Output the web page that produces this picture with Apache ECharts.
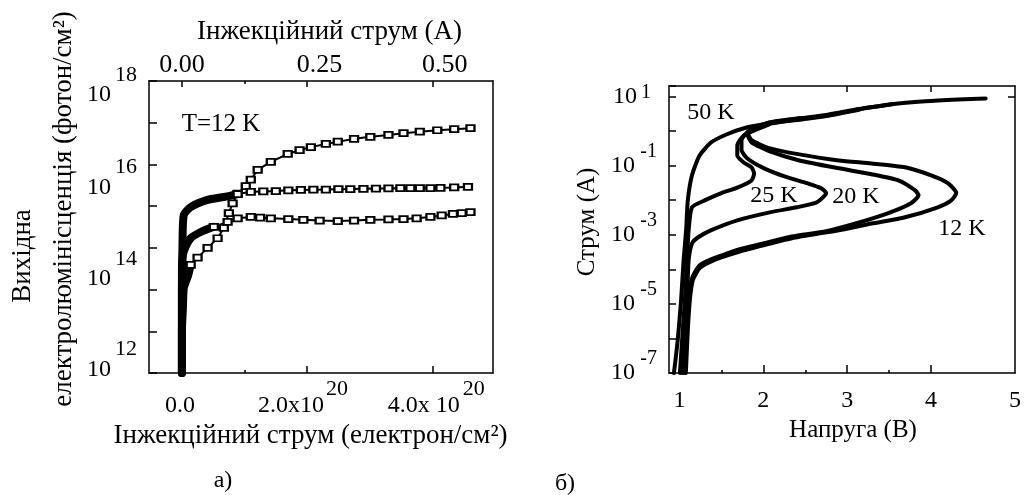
<!DOCTYPE html>
<html><head><meta charset="utf-8">
<script src="https://cdn.jsdelivr.net/npm/echarts@6/dist/echarts.min.js"></script>
<style>html,body{margin:0;padding:0;background:#fff}#c{width:1024px;height:495px}</style>
</head><body><div id="c"></div>
<script>
// ---------- Panel а): electroluminescence vs injection current (T = 12 K) ----------
// x: injection current (electron/cm^2), y: output EL (photon/cm^2)
// "Rise" arrays = dense, heavily overlapping low-current part of each curve
const elCurveTopRise = [[0,1e11],[0,1.07e12],[1.6e18,3.6e12],[3e18,1.1e13],[1e19,2.2e13],[1.4e19,3.9e13]];
const elCurveTop = [[1.4e19,3.9e13],[2.5e19,5.8e13],[4.1e19,1.0e14],[5.7e19,1.7e14],[6.7e19,3.0e14],[7.5e19,6.8e14],[8.1e19,1.17e15],[8.9e19,2.0e15],[1.02e20,3.0e15],[1.10e20,4.3e15],[1.21e20,7.4e15],[1.42e20,1.15e16],[1.69e20,1.78e16],[1.88e20,2.2e16],[2.06e20,2.6e16],[2.3e20,3.1e16],[2.49e20,3.5e16],[2.75e20,4.1e16],[3.01e20,4.6e16],[3.3e20,5.1e16],[3.54e20,5.6e16],[3.8e20,6.1e16],[4.08e20,6.6e16],[4.35e20,7.0e16],[4.61e20,7.4e16]];
const elCurveMidRise = [[0,1e11],[0,1e13],[1e18,1.5e14],[3e18,6.2e14],[1.4e19,9.5e14],[4.1e19,1.41e15],[6.7e19,1.66e15],[8.9e19,1.95e15]];
const elCurveMid = [[8.9e19,1.95e15],[1.10e20,2.2e15],[1.3e20,2.25e15],[1.5e20,2.3e15],[1.7e20,2.4e15],[1.9e20,2.45e15],[2.1e20,2.48e15],[2.3e20,2.5e15],[2.5e20,2.55e15],[2.69e20,2.57e15],[2.9e20,2.6e15],[3.1e20,2.63e15],[3.3e20,2.66e15],[3.49e20,2.7e15],[3.65e20,2.7e15],[3.8e20,2.7e15],[3.97e20,2.72e15],[4.13e20,2.75e15],[4.35e20,2.8e15],[4.57e20,2.9e15]];
const elCurveLowRise = [[0,1e11],[0,5.6e12],[0,3.0e13],[1.6e18,6.8e13],[6.4e18,1.1e14],[1.4e19,1.7e14],[3.0e19,2.4e14],[5.1e19,3.2e14]];
const elCurveLow = [[5.1e19,3.2e14],[7.3e19,4.2e14],[8.9e19,5.1e14],[1.10e20,5.5e14],[1.25e20,5.3e14],[1.42e20,5.1e14],[1.7e20,4.9e14],[1.94e20,4.7e14],[2.2e20,4.5e14],[2.49e20,4.4e14],[2.75e20,4.5e14],[3.01e20,4.7e14],[3.3e20,4.8e14],[3.54e20,4.9e14],[3.75e20,5.1e14],[3.97e20,5.5e14],[4.15e20,6.0e14],[4.33e20,6.5e14],[4.47e20,6.8e14],[4.61e20,7.2e14]];
const elBottomLabels = [0, 2e20, 4e20];
const elBottomTicks = [0, 2e20, 4e20];
const elBottomMinorTicks = [1e20];
const elTopLabels = [0, 0.25, 0.5];
const elTopMinorTicks = [0.125];

// ---------- Panel б): I-V curves (current A vs voltage V) ----------
const iv50K = [[0.935,1e-7],[0.98,8.9e-7],[1.02,1.26e-5],[1.05,1.8e-4],[1.08,1.35e-3],[1.10,9.8e-3],[1.15,0.052],[1.24,0.195],[1.38,0.47],[1.56,0.79],[1.77,1.2],[2.07,1.66],[2.43,2.2],[2.75,2.8],[3.14,4.2],[3.53,5.9],[3.93,7.2],[4.32,8.1],[4.65,8.7]];
const iv12K = [[1.077,1e-7],[1.10,1.7e-6],[1.124,1.26e-5],[1.16,4.8e-5],[1.24,1.07e-4],[1.36,1.6e-4],[1.50,2.2e-4],[1.69,3.1e-4],[1.95,4.6e-4],[2.34,7.9e-4],[2.90,1.35e-3],[3.29,2.1e-3],[3.69,3.2e-3],[4.08,6.2e-3],[4.24,9.8e-3],[4.30,0.016],[4.20,0.031],[4.0,0.052],[3.69,0.089],[3.29,0.115],[2.90,0.14],[2.43,0.21],[2.07,0.32],[1.86,0.54],[1.81,0.91],[2.07,1.72],[2.43,2.3],[2.75,2.9],[3.14,4.3],[3.53,5.9]];
const iv20K = [[1.05,1e-7],[1.08,1.7e-6],[1.11,1.26e-5],[1.15,5.5e-5],[1.24,1.3e-4],[1.38,1.95e-4],[1.54,2.7e-4],[1.72,3.8e-4],[1.95,5.2e-4],[2.34,8.9e-4],[2.75,1.26e-3],[3.10,2.1e-3],[3.49,4.2e-3],[3.76,8.1e-3],[3.85,0.0138],[3.81,0.019],[3.61,0.037],[3.29,0.056],[2.90,0.083],[2.43,0.14],[2.07,0.26],[1.86,0.47],[1.81,0.79],[2.07,1.6],[2.43,2.12],[2.75,2.7],[3.14,4.1]];
const iv25K = [[1.03,1e-7],[1.065,1.7e-6],[1.09,1.26e-5],[1.11,1.8e-4],[1.15,5.6e-4],[1.22,8.3e-4],[1.38,1.35e-3],[1.69,2.6e-3],[2.09,4.5e-3],[2.40,6.2e-3],[2.64,8.7e-3],[2.75,0.016],[2.69,0.022],[2.52,0.031],[2.28,0.046],[2.01,0.083],[1.81,0.16],[1.74,0.28],[1.74,0.54],[1.81,0.91],[2.07,1.75],[2.43,2.35]];
const ivInnerLoop = [[1.006,1e-7],[1.04,1.7e-6],[1.065,1.26e-5],[1.09,1.8e-4],[1.11,1.35e-3],[1.15,6.2e-3],[1.30,9.8e-3],[1.50,0.016],[1.69,0.023],[1.86,0.037],[1.89,0.059],[1.86,0.089],[1.77,0.12],[1.69,0.195],[1.69,0.38],[1.77,0.74],[2.07,1.55]];
const ivXLabels = [1, 2, 3, 4, 5];
const ivXTicks = [1, 2, 3, 4];
const ivXMinorTicks = [1.5, 2.5, 3.5];
const ivTopTicks = [2, 3, 4];

const FF = '"Liberation Serif", "Times New Roman", serif';
const black = '#000';
const lineSt = { lineStyle: { color: black, width: 1.5 }, onZero: false };

const chart = echarts.init(document.getElementById('c'), null, { renderer: 'canvas' });

function xAx(o) {
  return Object.assign({
    type: 'value', splitLine: { show: false }, axisLine: lineSt,
    nameTextStyle: { fontFamily: FF, color: black }
  }, o);
}

const option = {
  animation: false,
  backgroundColor: '#fff',
  grid: [
    { left: 149, top: 81, width: 344, height: 292 },
    { left: 669, top: 86, width: 348, height: 287 }
  ],
  xAxis: [
    // 0: panel a bottom
    xAx({
      gridIndex: 0, position: 'bottom', min: -0.526e20, max: 4.97e20,
      axisTick: { inside: true, length: 7, customValues: elBottomTicks, lineStyle: { color: black, width: 1.5 } },
      axisLabel: {
        customValues: elBottomLabels, margin: 11, color: black, fontFamily: FF,
        formatter: function (v) {
          if (Math.abs(v) < 1e10) return '{s| }\n{b|0.0}';
          if (Math.abs(v - 2e20) < 1e16) return '{s2|20}\n{b2|2.0x10}';
          return '{s4|20}\n{b4|4.0x 10}';
        },
        rich: {
          s: { fontSize: 22, lineHeight: 10, fontFamily: FF },
          s2: { fontSize: 22, lineHeight: 10, fontFamily: FF, padding: [0, 0, 0, 60] },
          s4: { fontSize: 22, lineHeight: 10, fontFamily: FF, padding: [0, 0, 0, 83] },
          b: { fontSize: 24, lineHeight: 24, fontFamily: FF, padding: [0, 4, 0, 0] },
          b2: { fontSize: 24, lineHeight: 24, fontFamily: FF, padding: [0, 32, 0, 0] },
          b4: { fontSize: 24, lineHeight: 24, fontFamily: FF, padding: [0, 17, 0, 0] }
        }
      },
      name: 'Інжекційний струм (електрон/см²)', nameLocation: 'middle', nameGap: 47,
      nameTextStyle: { fontFamily: FF, fontSize: 27, color: black, padding: [0, 21, 0, 0] }
    }),
    // 1: panel a top (current, A)
    xAx({
      gridIndex: 0, position: 'top', min: -0.06575, max: 0.62125,
      axisTick: { inside: true, length: 6, customValues: elTopLabels, lineStyle: { color: black, width: 1.5 } },
      axisLabel: {
        customValues: elTopLabels, margin: 3, color: black, fontFamily: FF,
        formatter: function (v) { return v === 0 ? '{a|0.00}' : '{c|' + v.toFixed(2) + '}'; },
        rich: {
          a: { fontSize: 26, lineHeight: 26, fontFamily: FF },
          c: { fontSize: 26, lineHeight: 26, fontFamily: FF, padding: [0, 0, 0, 25] }
        }
      },
      name: 'Інжекційний струм (А)', nameLocation: 'middle', nameGap: 36,
      nameTextStyle: { fontFamily: FF, fontSize: 27, color: black, padding: [0, 0, 0, 17] }
    }),
    // 2: panel a bottom minor ticks
    xAx({
      gridIndex: 0, position: 'bottom', min: -0.526e20, max: 4.97e20,
      axisLine: { show: false, onZero: false }, axisLabel: { show: false },
      axisTick: { inside: true, length: 3, customValues: elBottomMinorTicks, lineStyle: { color: black, width: 1.5 } }
    }),
    // 3: panel a top minor ticks
    xAx({
      gridIndex: 0, position: 'top', min: -0.06575, max: 0.62125,
      axisLine: { show: false, onZero: false }, axisLabel: { show: false },
      axisTick: { inside: true, length: 3, customValues: elTopMinorTicks, lineStyle: { color: black, width: 1.5 } }
    }),
    // 4: panel b bottom (voltage)
    xAx({
      gridIndex: 1, position: 'bottom', min: 0.876, max: 5,
      axisTick: { inside: true, length: 8, customValues: ivXTicks, lineStyle: { color: black, width: 1.5 } },
      axisLabel: { customValues: ivXLabels, margin: 16, color: black, fontFamily: FF, fontSize: 24 },
      name: 'Напруга (В)', nameLocation: 'middle', nameGap: 45,
      nameTextStyle: { fontFamily: FF, fontSize: 25, color: black, padding: [0, 0, 0, 22] }
    }),
    // 5: panel b top
    xAx({
      gridIndex: 1, position: 'top', min: 0.876, max: 5,
      axisTick: { inside: true, length: 6, customValues: ivTopTicks, lineStyle: { color: black, width: 1.5 } },
      axisLabel: { show: false }
    }),
    // 6: panel b bottom minor ticks
    xAx({
      gridIndex: 1, position: 'bottom', min: 0.876, max: 5,
      axisLine: { show: false, onZero: false }, axisLabel: { show: false },
      axisTick: { inside: true, length: 3, customValues: ivXMinorTicks, lineStyle: { color: black, width: 1.5 } }
    })
  ],
  yAxis: [
    // 0: panel a left (log)
    {
      type: 'log', gridIndex: 0, position: 'left', min: 1e11, max: 1e18, splitNumber: 8,
      splitLine: { show: false }, axisLine: lineSt,
      axisTick: { inside: true, length: 8, lineStyle: { color: black, width: 1.5 } },
      axisLabel: {
        margin: 12, color: black, fontFamily: FF,
        formatter: function (v) {
          const e = Math.round(Math.log10(v));
          if (e % 2 !== 0) return '';
          return '{p' + e + '| }\n{s|' + e + '}\n{b|10}';
        },
        rich: {
          p18: { fontSize: 8, lineHeight: 14 }, p16: { fontSize: 8, lineHeight: 32 },
          p14: { fontSize: 8, lineHeight: 48 }, p12: { fontSize: 8, lineHeight: 62 },
          s: { fontSize: 22, lineHeight: 14, fontFamily: FF },
          b: { fontSize: 24, lineHeight: 26, fontFamily: FF, padding: [0, 26, 0, 0] }
        }
      },
      name: '{l1|Вихідна}\n{l2|електролюмінісценція (фотон/см²)}',
      nameLocation: 'middle', nameGap: 65,
      nameTextStyle: {
        fontFamily: FF, color: black,
        rich: {
          l1: { fontSize: 27, lineHeight: 41, fontFamily: FF, padding: [0, 58, 0, 0] },
          l2: { fontSize: 27, lineHeight: 41, fontFamily: FF, padding: [0, 0, 0, 36] }
        }
      }
    },
    // 1: panel a right border
    {
      type: 'log', gridIndex: 0, position: 'right', min: 1e11, max: 1e18,
      splitLine: { show: false }, axisLine: lineSt, axisTick: { show: false }, axisLabel: { show: false }
    },
    // 2: panel b left (log current)
    {
      type: 'log', gridIndex: 1, position: 'left', min: 1e-7, max: 19.95, splitNumber: 9,
      splitLine: { show: false }, axisLine: lineSt,
      axisTick: { inside: true, length: 7, lineStyle: { color: black, width: 1.5 } },
      axisLabel: {
        margin: 12, color: black, fontFamily: FF,
        formatter: function (v) {
          const l = Math.log10(v), e = Math.round(l);
          if (Math.abs(l - e) > 0.01) return '';
          if (e === 1) return '{b1|10}{s1|1}';
          if (Math.abs(e % 2) !== 1) return '';
          return '{s|' + e + '}\n{b|10}\n{q| }';
        },
        rich: {
          s: { fontSize: 20, lineHeight: 8, fontFamily: FF },
          b: { fontSize: 24, lineHeight: 20, fontFamily: FF, padding: [0, 22, 0, 0] },
          q: { fontSize: 8, lineHeight: 8 },
          b1: { fontSize: 24, lineHeight: 24, fontFamily: FF },
          s1: { fontSize: 20, lineHeight: 24, fontFamily: FF, padding: [0, 6, 8, 4] }
        }
      },
      name: 'Струм (А)', nameLocation: 'middle', nameGap: 69,
      nameTextStyle: { fontFamily: FF, fontSize: 25, color: black, padding: [0, 0, 0, 15] }
    },
    // 3: panel b right border
    {
      type: 'log', gridIndex: 1, position: 'right', min: 1e-7, max: 19.95,
      splitLine: { show: false }, axisLine: lineSt,
      axisTick: { inside: true, length: 7, customValues: [10], lineStyle: { color: black, width: 1.5 } },
      axisLabel: { show: false }
    }
  ],
  graphic: [
    { type: 'text', x: 221, y: 124, style: { text: 'T=12 K', font: '25px ' + FF, fill: black, align: 'center', verticalAlign: 'middle', textAlign: 'center', textVerticalAlign: 'middle' } },
    { type: 'text', x: 711, y: 113, style: { text: '50 K', font: '24px ' + FF, fill: black, align: 'center', verticalAlign: 'middle', textAlign: 'center', textVerticalAlign: 'middle' } },
    { type: 'text', x: 774, y: 196, style: { text: '25 K', font: '24px ' + FF, fill: black, align: 'center', verticalAlign: 'middle', textAlign: 'center', textVerticalAlign: 'middle' } },
    { type: 'text', x: 856, y: 197, style: { text: '20 K', font: '24px ' + FF, fill: black, align: 'center', verticalAlign: 'middle', textAlign: 'center', textVerticalAlign: 'middle' } },
    { type: 'text', x: 962, y: 229, style: { text: '12 K', font: '24px ' + FF, fill: black, align: 'center', verticalAlign: 'middle', textAlign: 'center', textVerticalAlign: 'middle' } },
    { type: 'text', x: 223, y: 481, style: { text: 'а)', font: '24px ' + FF, fill: black, align: 'center', verticalAlign: 'middle', textAlign: 'center', textVerticalAlign: 'middle' } },
    { type: 'text', x: 565, y: 484, style: { text: 'б)', font: '24px ' + FF, fill: black, align: 'center', verticalAlign: 'middle', textAlign: 'center', textVerticalAlign: 'middle' } }
  ],
  series: []
};

function elSeries(name, data) {
  return {
    name: name, type: 'line', xAxisIndex: 0, yAxisIndex: 0, data: data,
    symbol: 'emptyRect', symbolSize: [8, 6], showSymbol: true,
    lineStyle: { color: black, width: 2 },
    itemStyle: { color: black, borderColor: black, borderWidth: 1.4 },
    emphasis: { disabled: true }, silent: true, z: 3
  };
}
function elHeavy(name, data) {
  return {
    name: name, type: 'line', xAxisIndex: 0, yAxisIndex: 0, data: data,
    showSymbol: false, smooth: 0.2,
    lineStyle: { color: black, width: 8, cap: 'round', join: 'round' },
    emphasis: { disabled: true }, silent: true, z: 2
  };
}
function ivSeries(name, data) {
  return {
    name: name, type: 'line', xAxisIndex: 4, yAxisIndex: 2, data: data,
    showSymbol: false, smooth: 0.2,
    lineStyle: { color: black, width: 4, cap: 'round', join: 'round' },
    emphasis: { disabled: true }, silent: true
  };
}
option.series.push(
  elHeavy('top rise', elCurveTopRise), elHeavy('mid rise', elCurveMidRise), elHeavy('low rise', elCurveLowRise),
  elSeries('top', elCurveTop), elSeries('mid', elCurveMid), elSeries('low', elCurveLow)
);
option.series.push(ivSeries('50 K', iv50K), ivSeries('12 K', iv12K), ivSeries('20 K', iv20K), ivSeries('25 K', iv25K), ivSeries('inner', ivInnerLoop));

chart.setOption(option);
</script>
</body></html>
